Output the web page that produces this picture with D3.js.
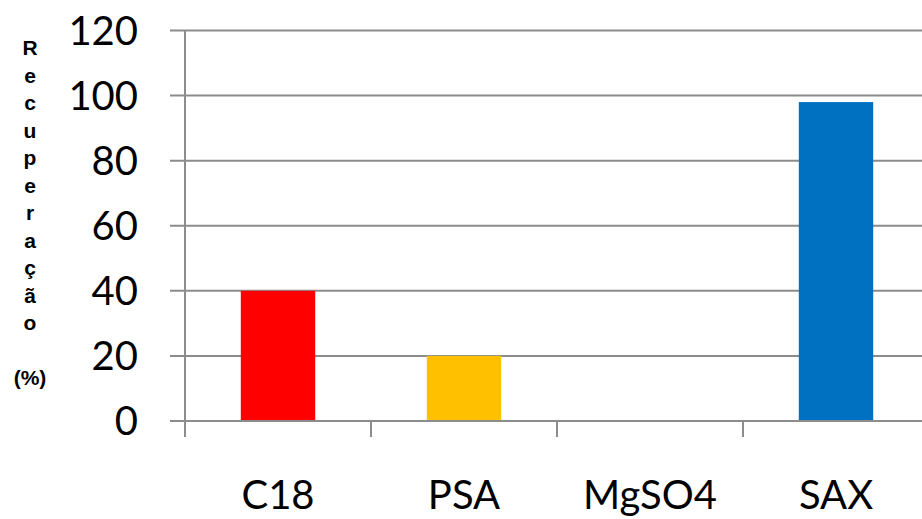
<!DOCTYPE html>
<html>
<head>
<meta charset="utf-8">
<script src="https://cdn.jsdelivr.net/npm/d3@7"></script>
<style>
  html, body { margin: 0; padding: 0; background: #fff; }
  svg { display: block; }
</style>
</head>
<body>
<script>
// Recovery (%) by sorbent
const categories = ["C18", "PSA", "MgSO4", "SAX"];
const recovery = [40, 20, 0, 98];
const barColors = ["#FF0000", "#FFC000", "#0070C0", "#0070C0"];
const yTicks = [0, 20, 40, 60, 80, 100, 120];
const yTitleLetters = ["R", "e", "c", "u", "p", "e", "r", "a", "ç", "ã", "o", "", "(%)"];

const W = 922, H = 519;
const margin = { left: 185, top: 30.5, bottom: 98 };
const plotRight = 929;

const svg = d3.select("body").append("svg")
  .attr("width", W).attr("height", H);

const x = d3.scaleBand()
  .domain(categories)
  .range([margin.left, plotRight])
  .paddingInner(0.6)
  .paddingOuter(0.3);

const y = d3.scaleLinear()
  .domain([0, 120])
  .range([H - margin.bottom, margin.top]);

const gridColor = "#8c8c8c";

// horizontal gridlines (extend left past the axis as tick marks)
svg.append("g")
  .selectAll("line")
  .data(yTicks)
  .join("line")
  .attr("x1", margin.left - 15)
  .attr("x2", W)
  .attr("y1", d => y(d))
  .attr("y2", d => y(d))
  .attr("stroke", gridColor)
  .attr("stroke-width", 2);

// bars
svg.append("g")
  .selectAll("rect")
  .data(categories)
  .join("rect")
  .attr("x", d => x(d))
  .attr("width", x.bandwidth())
  .attr("y", (d, i) => y(recovery[i]))
  .attr("height", (d, i) => y(0) - y(recovery[i]))
  .attr("fill", (d, i) => barColors[i]);

// baseline and category separators
svg.append("line")
  .attr("x1", margin.left - 15).attr("x2", W)
  .attr("y1", y(0)).attr("y2", y(0))
  .attr("stroke", gridColor).attr("stroke-width", 2);

const step = x.step();
const bandEdges = categories.map((d, i) => margin.left + i * step);
svg.append("g")
  .selectAll("line")
  .data(bandEdges)
  .join("line")
  .attr("x1", d => d).attr("x2", d => d)
  .attr("y1", (d, i) => i === 0 ? y(120) : y(0))
  .attr("y2", y(0) + 16)
  .attr("stroke", gridColor)
  .attr("stroke-width", 2);

// y tick labels
svg.append("g")
  .selectAll("text")
  .data(yTicks)
  .join("text")
  .attr("x", 138)
  .attr("y", d => y(d))
  .attr("dy", "0.36em")
  .attr("text-anchor", "end")
  .attr("font-family", "Lato, 'Open Sans', sans-serif")
  .attr("font-size", 40)
  .attr("fill", "#000")
  .text(d => d);

// category labels
svg.append("g")
  .selectAll("text")
  .data(categories)
  .join("text")
  .attr("x", d => x(d) + x.bandwidth() / 2)
  .attr("y", 509)
  .attr("text-anchor", "middle")
  .attr("font-family", "Lato, 'Open Sans', sans-serif")
  .attr("font-size", 40)
  .attr("fill", "#000")
  .text(d => d);

// stacked vertical axis title
svg.append("g")
  .selectAll("text")
  .data(yTitleLetters)
  .join("text")
  .attr("x", 30)
  .attr("y", (d, i) => 55 + i * 27.5)
  .attr("text-anchor", "middle")
  .attr("font-family", "'Liberation Sans', Arial, sans-serif")
  .attr("font-weight", "bold")
  .attr("font-size", 21)
  .attr("fill", "#000")
  .text(d => d);
</script>
</body>
</html>
